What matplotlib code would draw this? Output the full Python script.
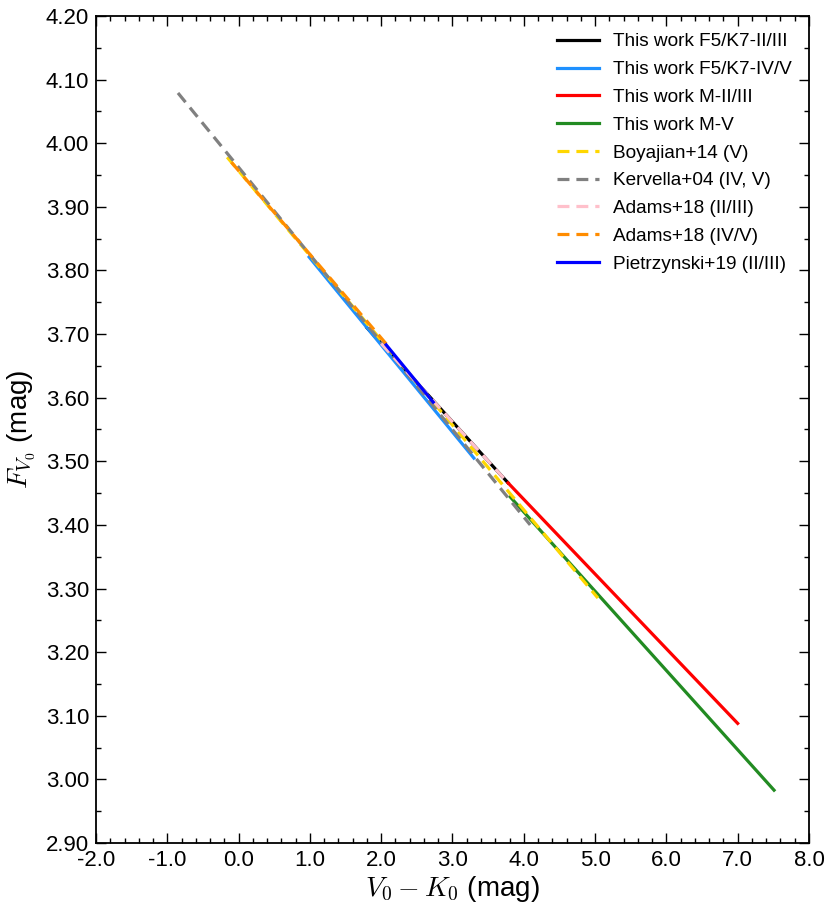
import matplotlib
matplotlib.use("Agg")
import matplotlib.pyplot as plt
from matplotlib.ticker import MultipleLocator, FormatStrFormatter

plt.rcParams['font.family'] = ['Liberation Sans', 'DejaVu Sans']
plt.rcParams['mathtext.fontset'] = 'cm'
plt.rcParams['lines.scale_dashes'] = False

# colour (V0-K0) vs surface brightness F_V0
fk_giant_x = [1.80, 3.78]
fk_giant_y = [3.710, 3.466]
fk_dwarf_x = [0.99, 3.30]
fk_dwarf_y = [3.821, 3.505]
m_giant_x = [3.78, 7.00]
m_giant_y = [3.466, 3.088]
m_dwarf_x = [3.81, 7.51]
m_dwarf_y = [3.444, 2.983]
boyajian_x = [-0.16, 5.04]
boyajian_y = [3.978, 3.285]
kervella_x = [-0.85, 4.09]
kervella_y = [4.079, 3.400]
adams_giant_x = [2.00, 3.78]
adams_giant_y = [3.685, 3.466]
adams_dwarf_x = [-0.10, 2.12]
adams_dwarf_y = [3.970, 3.678]
pietr_x = [2.07, 2.73]
pietr_y = [3.683, 3.593]

lw = 2.3
dash = (8.6, 5.0)

fig = plt.figure(figsize=(8.31, 9.13), dpi=100)
ax = fig.add_axes([0.1155, 0.0767, 0.858, 0.9058])

ax.plot(fk_giant_x, fk_giant_y, color='black', lw=lw, label='This work F5/K7-II/III')
ax.plot(fk_dwarf_x, fk_dwarf_y, color='#1E90FF', lw=lw, label='This work F5/K7-IV/V')
ax.plot(m_giant_x, m_giant_y, color='red', lw=lw, label='This work M-II/III')
ax.plot(m_dwarf_x, m_dwarf_y, color='#228B22', lw=lw, label='This work M-V')
ax.plot(boyajian_x, boyajian_y, color='#FFD700', lw=lw, ls='--', dashes=dash, label='Boyajian+14 (V)')
ax.plot(kervella_x, kervella_y, color='grey', lw=lw, ls='--', dashes=dash, label='Kervella+04 (IV, V)')
ax.plot(adams_giant_x, adams_giant_y, color='pink', lw=lw, ls='--', dashes=dash, label='Adams+18 (II/III)')
ax.plot(adams_dwarf_x, adams_dwarf_y, color='darkorange', lw=lw, ls='--', dashes=dash, label='Adams+18 (IV/V)')
ax.plot(pietr_x, pietr_y, color='blue', lw=lw, label='Pietrzynski+19 (II/III)')

ax.set_xlim(-2.0, 8.0)
ax.set_ylim(2.90, 4.20)
ax.xaxis.set_major_locator(MultipleLocator(1.0))
ax.xaxis.set_minor_locator(MultipleLocator(0.2))
ax.yaxis.set_major_locator(MultipleLocator(0.1))
ax.yaxis.set_minor_locator(MultipleLocator(0.05))
ax.xaxis.set_major_formatter(FormatStrFormatter('%.1f'))
ax.yaxis.set_major_formatter(FormatStrFormatter('%.2f'))
ax.tick_params(which='both', direction='in', top=True, right=True, width=1.0)
ax.tick_params(which='major', length=7, labelsize=16, pad=5)
ax.tick_params(which='minor', length=3.5)
for s in ax.spines.values():
    s.set_linewidth(1.3)

ax.set_xlabel(r'$V_0-K_0$ (mag)', fontsize=20, labelpad=2)
ax.set_ylabel(r'$F_{V_0}$ (mag)', fontsize=20, labelpad=6)

ax.legend(loc='upper right', frameon=False, fontsize=13.7, handlelength=2.2,
          handletextpad=0.75, labelspacing=0.55, borderaxespad=0.5)

plt.savefig('out.png', dpi=100)
